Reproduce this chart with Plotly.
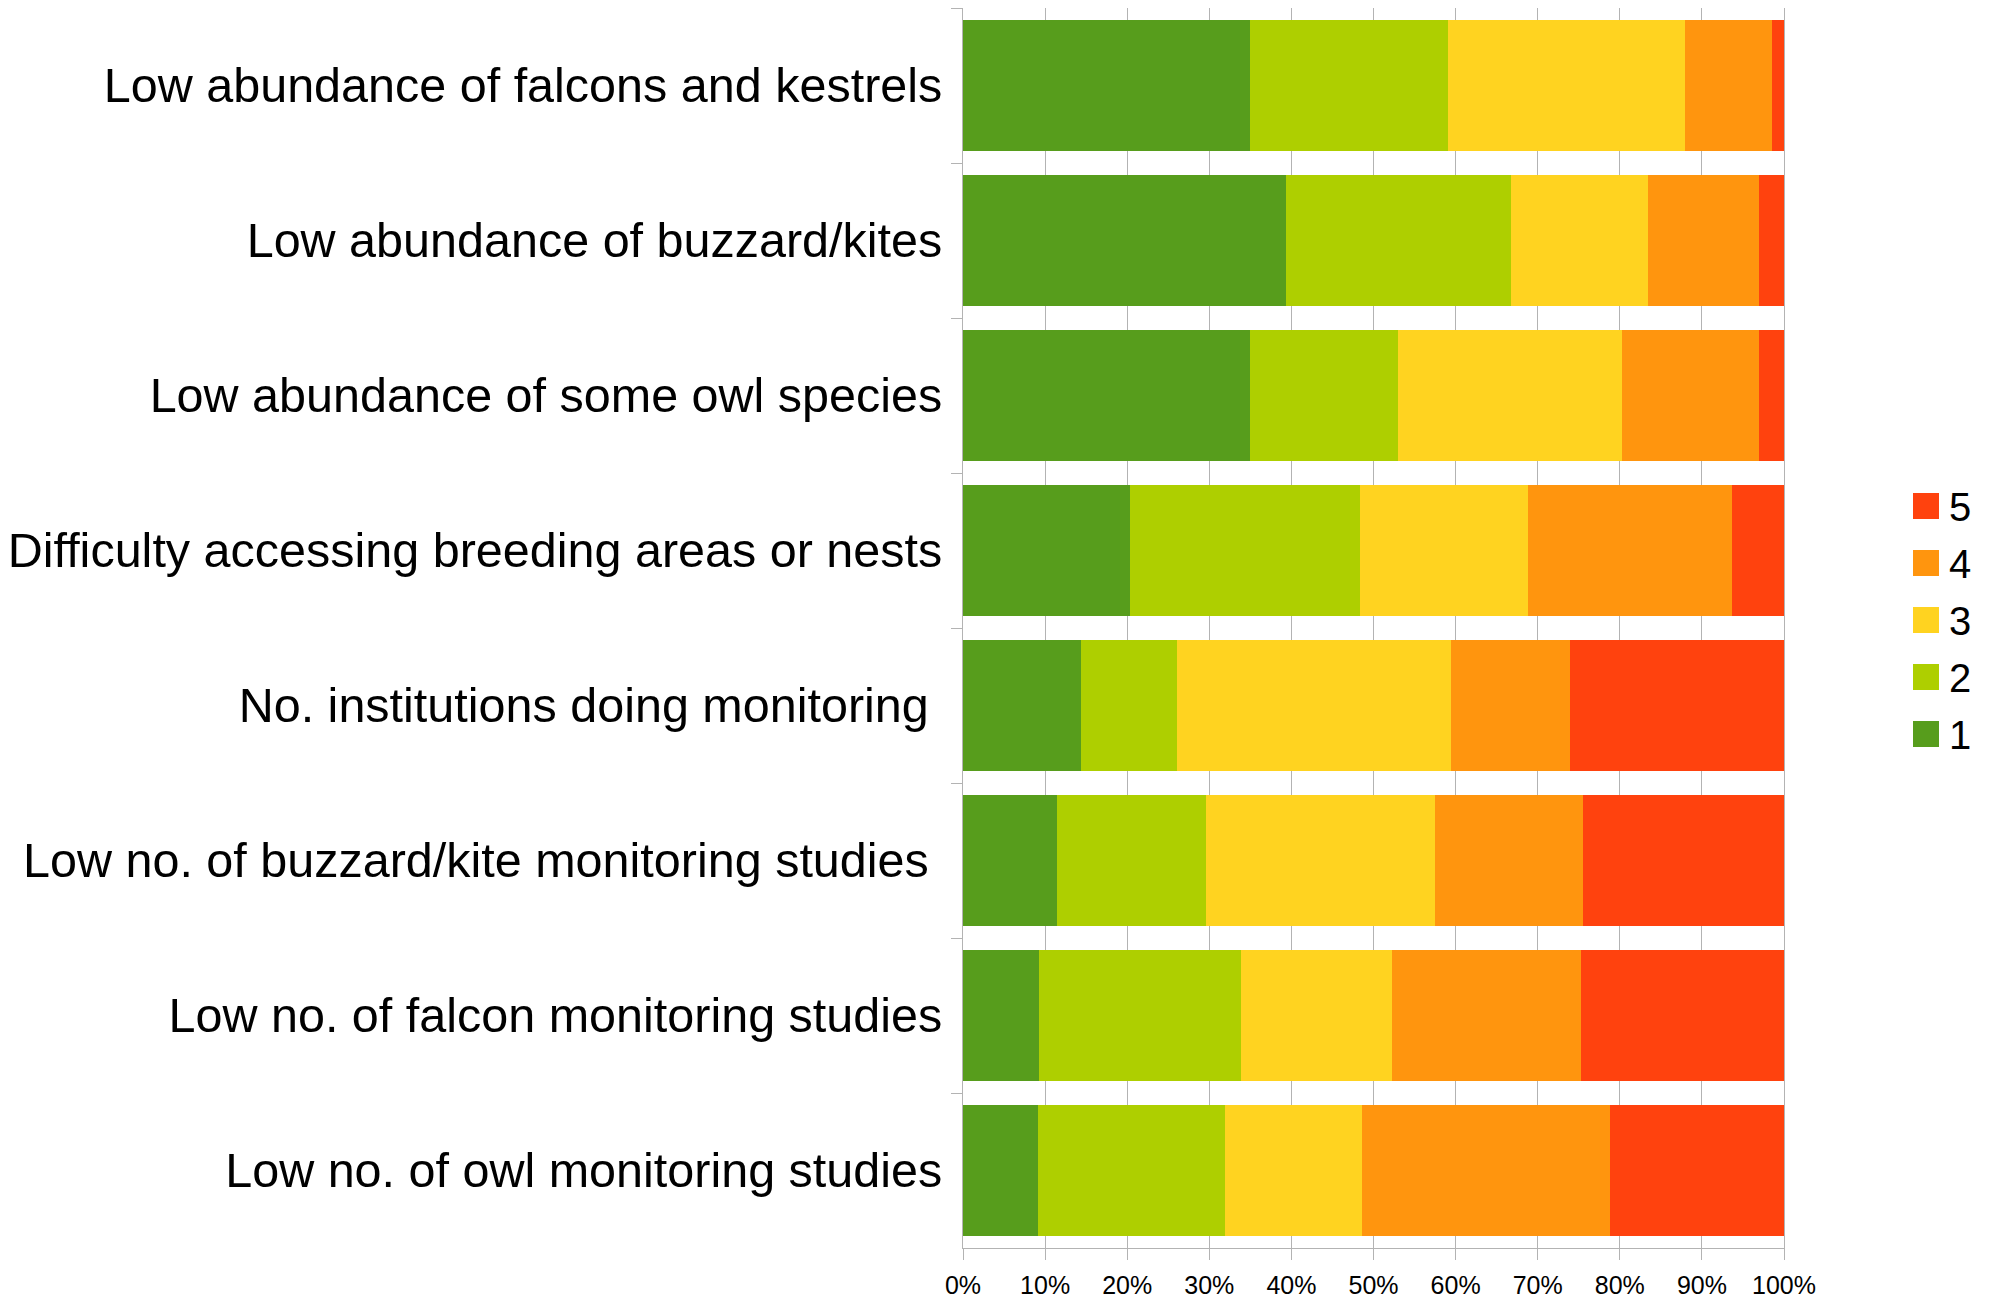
import plotly.graph_objects as go

# categories, top to bottom
problems = [
    'Low abundance of falcons and kestrels',
    'Low abundance of buzzard/kites',
    'Low abundance of some owl species',
    'Difficulty accessing breeding areas or nests',
    'No. institutions doing monitoring\u00a0',
    'Low no. of buzzard/kite monitoring studies\u00a0',
    'Low no. of falcon monitoring studies',
    'Low no. of owl monitoring studies',
]

# share of answers (%) per score
score_1 = [34.9, 39.4, 34.9, 20.4, 14.4, 11.5, 9.3, 9.1]
score_2 = [24.2, 27.3, 18.1, 28.0, 11.7, 18.1, 24.6, 22.8]
score_3 = [28.8, 16.7, 27.3, 20.4, 33.3, 27.9, 18.4, 16.7]
score_4 = [10.6, 13.6, 16.7, 24.9, 14.5, 18.0, 23.0, 30.2]
score_5 = [1.5, 3.0, 3.0, 6.3, 26.1, 24.5, 24.7, 21.3]

series = [('1', score_1), ('2', score_2), ('3', score_3), ('4', score_4), ('5', score_5)]
colors = {'1': '#579d1c', '2': '#aecf00', '3': '#ffd320', '4': '#ff950e', '5': '#ff420e'}

# page body adds an 8px margin, so everything is placed 8px up/left
W, H = 1990, 1296
L, R, T, B = 955, 1776, 0, 1240
grid = '#b3b3b3'
font = 'Liberation Sans, Arial, sans-serif'

fig = go.Figure()
for name, vals in series:
    fig.add_trace(go.Bar(
        y=problems, x=vals, name=name, orientation='h',
        marker=dict(color=colors[name], line=dict(width=0)),
        showlegend=False,
    ))


def px_x(p):
    return (p - L) / (R - L)


def px_y(p):
    return 1 - (p - T) / (B - T)


# hand-made legend (bigger swatches than plotly's own)
shapes, notes = [], []
for i, (name, _) in enumerate(reversed(series)):
    cy = 498 + i * 57
    shapes.append(dict(type='rect', xref='paper', yref='paper',
                       x0=px_x(1905), x1=px_x(1931), y0=px_y(cy + 13), y1=px_y(cy - 13),
                       fillcolor=colors[name], line=dict(width=0)))
    notes.append(dict(text=name, xref='paper', yref='paper', x=px_x(1939), y=px_y(cy + 1),
                      xanchor='left', yanchor='middle', showarrow=False,
                      font=dict(size=40, color='black', family=font)))

fig.update_layout(
    width=W, height=H,
    margin=dict(l=L, r=W - R, t=T, b=H - B, pad=0),
    barmode='stack', bargap=0.161,
    plot_bgcolor='white', paper_bgcolor='white',
    font=dict(family=font, color='black'),
    shapes=shapes, annotations=notes,
    xaxis=dict(range=[0, 100], dtick=10, ticksuffix='%', showgrid=True, gridcolor=grid,
               gridwidth=1, showline=True, linecolor=grid, linewidth=1, mirror=True,
               ticks='outside', ticklen=11, tickcolor=grid, zeroline=False,
               tickfont=dict(size=25, color='black'), ticklabelstandoff=4),
    yaxis=dict(autorange='reversed', showline=True, linecolor=grid, linewidth=1, mirror=True,
               ticks='outside', ticklen=11, tickcolor=grid, tickson='boundaries',
               showgrid=False, tickfont=dict(size=48.5, color='black'), ticklabelstandoff=10),
)

fig.write_html('out.html')
